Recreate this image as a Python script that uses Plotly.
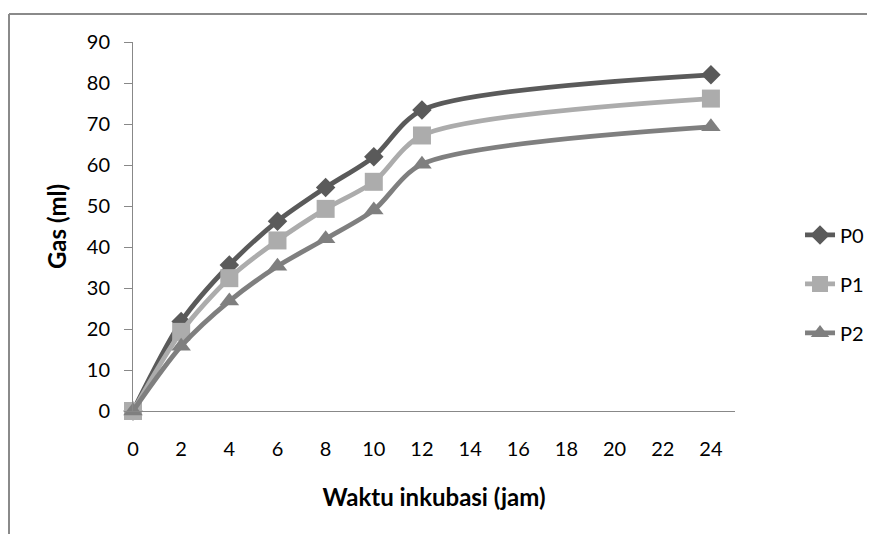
import plotly.graph_objects as go

# Data
jam = [0, 2, 4, 6, 8, 10, 12, 24]
p0 = [0, 21.8, 35.6, 46.3, 54.5, 62.0, 73.4, 82.0]
p1 = [0, 19.3, 32.4, 41.6, 49.3, 55.9, 67.2, 76.2]
p2 = [0, 15.8, 26.8, 35.3, 42.0, 49.0, 60.2, 69.3]

series_names = ["P0", "P1", "P2"]
series_values = [p0, p1, p2]
x_ticks = list(range(0, 25, 2))

colors = ["#5a5a5a", "#acacac", "#7f7f7f"]
symbols = ["diamond", "square", "triangle-up"]
sizes = [15, 18, 17]

FONT = "Lato"

# page has an 8px body margin; plot area lands at x 133..735, y 42..411
W, H = 875, 534
L, T, PW, PH = 125, 34, 602, 369

fig = go.Figure()
for i, (name, vals) in enumerate(zip(series_names, series_values)):
    fig.add_trace(go.Scatter(
        x=jam, y=vals, name=name, mode="lines+markers",
        line=dict(color=colors[i], width=4.8, shape="spline", smoothing=0.8),
        marker=dict(symbol=symbols[i], size=sizes[i], color=colors[i],
                    line=dict(width=0)),
        cliponaxis=False, legendgroup=name,
    ))

bx = (1 - L) / PW
by = (PH + T - 6) / PH

fig.update_layout(
    width=W, height=H,
    margin=dict(l=L, r=W - L - PW, t=T, b=H - T - PH, autoexpand=False),
    paper_bgcolor="white", plot_bgcolor="white",
    font=dict(family=FONT, size=20, color="#000000"),
    showlegend=True,
    legend=dict(x=1.108, y=0.53, xanchor="left", yanchor="top",
                font=dict(family=FONT, size=20, color="#000000"),
                tracegroupgap=20, bgcolor="rgba(0,0,0,0)"),
    xaxis=dict(
        range=[0, 25], tickmode="array", tickvals=x_ticks,
        ticktext=[str(v) for v in x_ticks],
        showgrid=False, zeroline=False, showline=True,
        linecolor="#888888", linewidth=1, ticks="",
        ticklabelstandoff=20, automargin=False,
        tickfont=dict(family=FONT, size=20),
        title=dict(text="<b>Waktu inkubasi (jam)</b>", standoff=30,
                   font=dict(family=FONT, size=24)),
    ),
    yaxis=dict(
        range=[0, 90], tickmode="linear", tick0=0, dtick=10,
        showgrid=False, zeroline=False, showline=True,
        linecolor="#888888", linewidth=1, ticks="outside", ticklen=8,
        tickcolor="#888888", ticklabelstandoff=10, automargin=False,
        tickfont=dict(family=FONT, size=20),
        title=dict(text="<b>Gas (ml)</b>", standoff=13,
                   font=dict(family=FONT, size=24)),
    ),
    shapes=[
        dict(type="line", xref="paper", yref="paper",
             x0=bx, x1=bx, y0=-1.0, y1=by,
             line=dict(color="#8a8a8a", width=2), layer="below"),
        dict(type="line", xref="paper", yref="paper",
             x0=bx, x1=1.3, y0=by, y1=by,
             line=dict(color="#8a8a8a", width=2), layer="below"),
    ],
)

fig.write_html("out.html")
